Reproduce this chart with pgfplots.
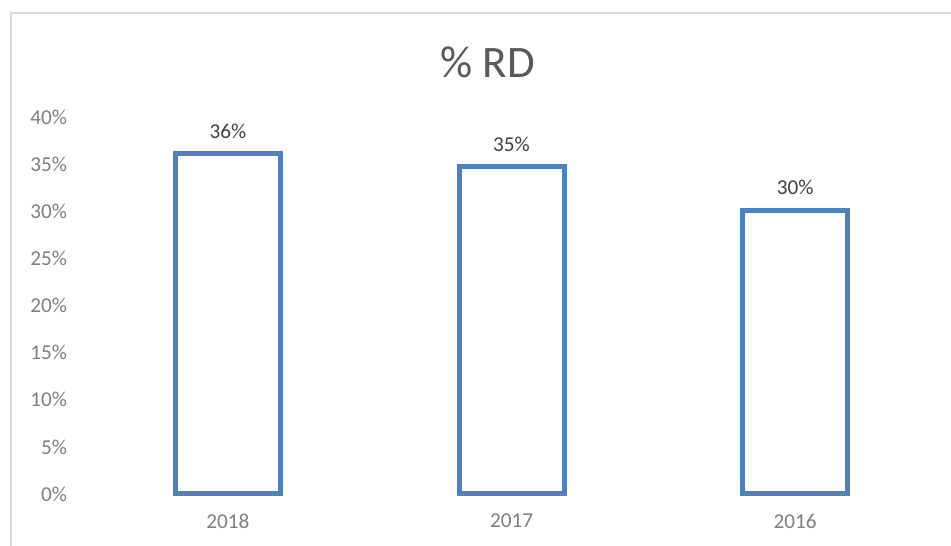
\documentclass[border=0pt]{standalone}
\usepackage{fontspec}
\setmainfont{Carlito}
\usepackage{pgfplots}
\pgfplotsset{compat=1.18}
\definecolor{barblue}{HTML}{4F81BD}
\definecolor{ticktext}{HTML}{7F7F7F}
\definecolor{labeltext}{HTML}{404040}
\definecolor{titletext}{HTML}{595959}
\definecolor{framegray}{HTML}{D9D9D9}
\begin{document}
\begin{tikzpicture}
\useasboundingbox (0,0) rectangle (475.5pt,272.5pt);
\fill[white] (0,0) rectangle (475.5pt,272.5pt);
\draw[framegray, line width=0.9pt] (5.3pt,-20pt) -- (5.3pt,265.9pt) -- (500pt,265.9pt);
\node[font=\fontsize{22.5}{26}\selectfont, text=titletext] at (243.75pt,241.5pt) {\% RD};
\begin{axis}[
  at={(43pt,25.5pt)}, anchor=south west,
  scale only axis, width=425.5pt, height=188.5pt,
  xmin=-0.5, xmax=2.5, ymin=0, ymax=40,
  xtick={0,1,2}, xticklabels={2018,2017,2016},
  ytick={0,5,...,40},
  yticklabel={\pgfmathprintnumber{\tick}\%},
  /pgf/number format/assume math mode=true,
  axis line style={draw=none},
  major tick length=0pt,
  tick label style={font=\fontsize{10.6}{12}\selectfont, text=ticktext},
  yticklabel style={xshift=-6pt},
  xticklabel style={yshift=-6.5pt},
  ybar, bar width=52.5pt,
  nodes near coords={\pgfmathprintnumber[fixed,precision=0]{\pgfplotspointmeta}\%},
  every node near coord/.append style={font=\fontsize{10.6}{12}\selectfont, text=labeltext, yshift=3pt},
  clip=false,
]
\addplot[draw=barblue, fill=white, line width=2.5pt] coordinates {(0,36.1) (1,34.7) (2,30.1)};
\end{axis}
\end{tikzpicture}
\end{document}
